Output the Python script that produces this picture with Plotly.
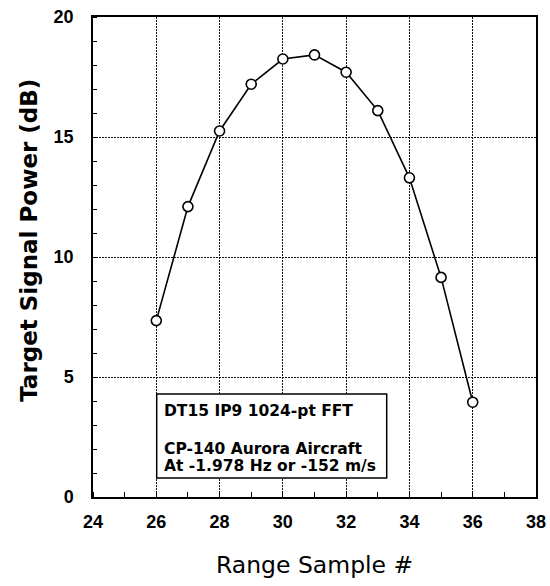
import plotly.graph_objects as go

range_sample = [26, 27, 28, 29, 30, 31, 32, 33, 34, 35, 36]
power_db = [7.35, 12.1, 15.25, 17.2, 18.25, 18.42, 17.7, 16.1, 13.3, 9.15, 3.95]

x_ticks = [24, 26, 28, 30, 32, 34, 36, 38]
y_ticks = [0, 5, 10, 15, 20]

x_title = "Range Sample #"
y_title = "Target Signal Power (dB)"
ann_lines = ["DT15 IP9 1024-pt FFT", "CP-140 Aurora Aircraft", "At -1.978 Hz or -152 m/s"]

fig = go.Figure()
fig.add_trace(go.Scatter(
    x=range_sample, y=power_db, mode="lines+markers",
    line=dict(color="black", width=1.6),
    marker=dict(symbol="circle", size=10, color="white", line=dict(color="black", width=1.6)),
    showlegend=False,
))

tickfont = dict(family="Liberation Sans, Arial", size=18, color="black", weight="bold")
axis_common = dict(
    showline=True, linecolor="black", linewidth=1.5, mirror=True,
    showgrid=True, gridcolor="#111", gridwidth=1, griddash="2px,1px",
    zeroline=False, ticks="", automargin=False, tickfont=tickfont,
)

fig.update_xaxes(range=[24, 38], tickvals=x_ticks, ticktext=[str(v) for v in x_ticks],
                 minor=dict(dtick=1, tick0=24, ticks="inside", ticklen=5, tickcolor="black", showgrid=False),
                 ticklabelstandoff=8, **axis_common)
fig.update_yaxes(range=[0, 20], tickvals=y_ticks, ticktext=[str(v) for v in y_ticks],
                 minor=dict(dtick=1, tick0=0, ticks="inside", ticklen=4, tickcolor="black", showgrid=False),
                 ticklabelstandoff=14, **axis_common)

# axis titles
fig.add_annotation(x=0.5, y=-0.142, xref="paper", yref="paper", xanchor="center", yanchor="middle",
                   text=x_title, showarrow=False,
                   font=dict(family="DejaVu Sans", size=23.5, color="black"))
fig.add_annotation(x=-0.143, y=0.535, xref="paper", yref="paper", xanchor="center", yanchor="middle",
                   text=y_title, showarrow=False, textangle=-90,
                   font=dict(family="DejaVu Sans", size=23, color="black", weight="bold"))

# info box
fig.add_shape(type="rect", xref="paper", yref="paper", x0=0.1438, x1=0.663, y0=0.0396, y1=0.2146,
              line=dict(color="black", width=1.5), fillcolor="white", layer="above")
ann_font = dict(family="DejaVu Sans", size=15.5, color="black", weight="bold")
for txt, yy in zip(ann_lines, [0.179, 0.100, 0.0646]):
    fig.add_annotation(x=0.155, y=yy, xref="paper", yref="paper", xanchor="left", yanchor="middle",
                       text=txt, showarrow=False, font=ann_font)

fig.update_layout(
    width=550, height=586,
    margin=dict(l=93, r=14, t=17, b=89),
    paper_bgcolor="white", plot_bgcolor="white",
)

fig.write_html("out.html", config={"displayModeBar": False},
               post_script="document.body.style.margin='0';document.body.style.overflow='hidden';")
